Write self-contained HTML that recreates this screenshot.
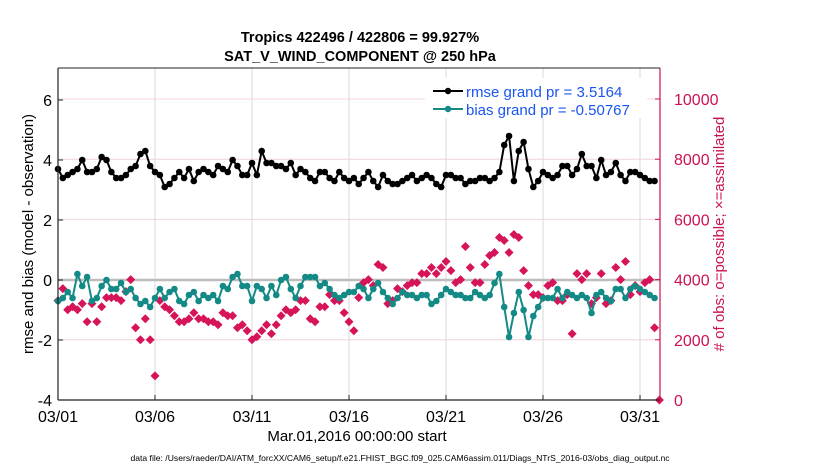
<!DOCTYPE html>
<html><head><meta charset="utf-8"><style>
body{margin:0;background:#fff;}
svg{display:block;font-family:"Liberation Sans",sans-serif;}
</style></head><body>
<svg id="chart" width="830" height="470" viewBox="0 0 830 470">
<text x="360" y="42" text-anchor="middle" font-size="14.5" font-weight="bold">Tropics 422496 / 422806 = 99.927%</text>
<text x="360" y="61" text-anchor="middle" font-size="14.5" font-weight="bold">SAT_V_WIND_COMPONENT @ 250 hPa</text>
<g id="grid"></g>
<g id="marks"></g>
<g id="axes"></g>
<text transform="translate(33,234) rotate(-90)" text-anchor="middle" font-size="15">rmse and bias (model - observation)</text>
<text transform="translate(724,234) rotate(-90)" text-anchor="middle" font-size="15" fill="#cc1155"># of obs: o=possible; ×=assimilated</text>
<text x="357" y="441" text-anchor="middle" font-size="15">Mar.01,2016 00:00:00 start</text>
<text x="400" y="461" text-anchor="middle" font-size="8.6">data file: /Users/raeder/DAI/ATM_forcXX/CAM6_setup/f.e21.FHIST_BGC.f09_025.CAM6assim.011/Diags_NTrS_2016-03/obs_diag_output.nc</text>
<g>
<rect x="425" y="78" width="222" height="40" fill="#fff"/>
<line x1="433" y1="91" x2="463" y2="91" stroke="#000" stroke-width="2"/>
<circle cx="448" cy="91" r="3.2" fill="#000"/>
<text x="466" y="97" font-size="15" fill="#1a55f0">rmse grand pr = 3.5164</text>
<line x1="433" y1="109" x2="463" y2="109" stroke="#138a85" stroke-width="2"/>
<circle cx="448" cy="109" r="3.2" fill="#138a85"/>
<text x="466" y="115" font-size="15" fill="#1a55f0">bias grand pr = -0.50767</text>
</g>
</svg>
<script>
const xTickLabels=["03/01","03/06","03/11","03/16","03/21","03/26","03/31"];
const xTickDays=[0,5,10,15,20,25,30];
const leftTicks=[-4,-2,0,2,4,6];
const rightTicks=[0,2000,4000,6000,8000,10000];
const rmse=[3.7,3.4,3.5,3.6, 3.7,4.0,3.6,3.6, 3.7,4.1,4.0,3.6, 3.4,3.4,3.5,3.7, 3.8,4.2,4.3,3.8, 3.6,3.5,3.1,3.2, 3.4,3.6,3.4,3.7, 3.3,3.6,3.7,3.6, 3.5,3.8,3.7,3.6, 4.0,3.8,3.5,3.5, 3.9,3.5,4.3,3.9, 3.9,3.8,3.8,3.7, 3.9,3.5,3.7,3.6, 3.4,3.3,3.6,3.6, 3.4,3.3,3.6,3.4, 3.3,3.4,3.2,3.4, 3.6,3.3,3.1,3.5, 3.3,3.2,3.2,3.3, 3.4,3.5,3.3,3.4, 3.5,3.4,3.2,3.1, 3.5,3.5,3.4,3.4, 3.2,3.3,3.3,3.4, 3.4,3.3,3.4,3.6, 4.5,4.8,3.3,4.3, 4.6,3.7,3.1,3.3, 3.6,3.5,3.4,3.5, 3.8,3.8,3.5,3.7, 4.2,3.8,3.8,3.4, 4.0,3.5,3.6,3.9, 3.5,3.3,3.6,3.6, 3.5,3.4,3.3,3.3];
const bias=[-0.7,-0.6,-0.4,-0.6, 0.2,-0.2,0.1,-0.7, -0.6,-0.2,0.0,-0.3, -0.3,-0.1,-0.4,-0.3, -0.6,-0.8,-0.7,-0.9, -0.6,-0.3,-0.6,-0.4, -0.3,-0.7,-0.8,-0.5, -0.4,-0.7,-0.5,-0.6, -0.5,-0.7,-0.2,-0.3, 0.1,0.2,-0.2,-0.2, -0.7,-0.2,-0.3,-0.6, -0.2,-0.5,0.0,0.1, -0.3,-0.6,-0.2,0.1, 0.1,0.1,-0.2,-0.1, -0.3,-0.5,-0.6,-0.5, -0.4,-0.4,-0.2,-0.3, -0.6,-0.3,-0.1,-0.4, -0.6,-0.8,-0.6,-0.4, -0.5,-0.5,-0.6,-0.5, -0.5,-0.8,-0.7,-0.5, -0.3,-0.4,-0.5,-0.5, -0.6,-0.6,-0.4,-0.5, -0.6,-0.5,-0.1,0.2, -0.9,-1.9,-1.1,-0.4, -1.0,-1.9,-1.2,-0.9, -0.6,-0.6,-0.6,-0.3, -0.6,-0.4,-0.5,-0.6, -0.5,-0.6,-1.1,-0.5, -0.4,-0.6,-0.7,-0.3, -0.3,-0.6,-0.3,-0.2, -0.3,-0.4,-0.5,-0.6];
const obsCount=[3300,3700,3000,3100, 3000,3200,2600,3200, 2600,3100,3400,3400, 3400,3300,3600,4000, 2400,2000,2700,2000, 800,3300,3100,3000, 2800,2600,2600,2700, 2900,2700,2700,2600, 2600,2500,2900,2800, 2800,2400,2500,2300, 2000,2100,2300,2500, 2200,2500,2800,3000, 2900,3000,3300,3300, 2700,2600,3100,3100, 3500,3300,3300,2900, 2600,2300,3400,3900, 4000,3800,4500,4400, 3200,3300,3700,3600, 3800,3900,3900,4200, 4200,4400,4200,4400, 4600,4300,3900,4000, 5100,4400,3900,3900, 4500,4800,4900,5400, 5300,4900,5500,5400, 4300,3800,3500,3500, 3400,3800,3900,3300, 3300,3500,2200,4200, 4000,4200,3200,3400, 4200,3200,3300,4400, 4000,4600,3500,3800, 3600,3900,4000,2400, 0];

const NS="http://www.w3.org/2000/svg";
const L=58,R=660,T=68,B=400;
const xDay=d=>L+d*(R-L)/31.03;
const yL=v=>280-v*30;
const yR=c=>400-c*0.0301;
function mk(tag,attrs,parent){const e=document.createElementNS(NS,tag);for(const k in attrs)e.setAttribute(k,attrs[k]);parent.appendChild(e);return e;}
const grid=document.getElementById('grid'),marks=document.getElementById('marks'),axes=document.getElementById('axes');
mk('rect',{x:L,y:T,width:R-L,height:B-T,fill:'#fff'},grid);
xTickDays.forEach((d,i)=>{
  const g=mk('line',{x1:xDay(d),x2:xDay(d),y1:T,y2:B,stroke:'#d8d8d8','stroke-width':1},grid);
  
  
  mk('line',{x1:xDay(d),x2:xDay(d),y1:B,y2:B-5,stroke:'#222'},axes);
  const lb=mk('text',{x:xDay(d),y:B+22,'text-anchor':'middle','font-size':16},axes);
  lb.textContent=xTickLabels[i];
  
  
});
rightTicks.forEach(c=>{
  const y=yR(c);
  if(c>0&&c!==4000){const g=mk('line',{x1:L,x2:R,y1:y,y2:y,stroke:'#f0d4dc','stroke-width':1},grid);
  
  }
  mk('line',{x1:R,x2:R-5,y1:y,y2:y,stroke:'#cc1155'},axes);
  const lb=mk('text',{x:R+14,y:y+6,'font-size':16,fill:'#cc1155'},axes);
  lb.textContent=c;
  
  
});
const zl=mk('line',{x1:L,x2:R,y1:yL(0),y2:yL(0),stroke:'#bdbdbd','stroke-width':2.5},grid);


leftTicks.forEach(v=>{
  mk('line',{x1:L,x2:L+5,y1:yL(v),y2:yL(v),stroke:'#222'},axes);
  const lb=mk('text',{x:L-6,y:yL(v)+6,'text-anchor':'end','font-size':16},axes);
  lb.textContent=v;
  
  
});
obsCount.forEach((c,i)=>{
  const x=xDay(i*0.25),y=yR(c),s=4.5;
  const p=mk('polygon',{points:`${x},${y-s} ${x+s},${y} ${x},${y+s} ${x-s},${y}`,fill:'#d6145a'},marks);
  
  
});
function series(vals,color,name){
  const pts=vals.map((v,i)=>`${xDay(i*0.25)},${yL(v)}`).join(' ');
  const pl=mk('polyline',{points:pts,fill:'none',stroke:color,'stroke-width':2},marks);
  
  
  vals.forEach((v,i)=>{
    const c=mk('circle',{cx:xDay(i*0.25),cy:yL(v),r:3.3,fill:color},marks);
    
    
  });
}
series(bias,'#138a85','bias');
series(rmse,'#000','rmse');
mk('line',{x1:L,x2:L,y1:T,y2:B,stroke:'#222','stroke-width':1.2},axes);
mk('line',{x1:L,x2:R,y1:B,y2:B,stroke:'#222','stroke-width':1.2},axes);
mk('line',{x1:L,x2:R,y1:T,y2:T,stroke:'#222','stroke-width':1},axes);
mk('line',{x1:R,x2:R,y1:T,y2:B,stroke:'#cc1155','stroke-width':1.2},axes);
</script>
</body></html>
